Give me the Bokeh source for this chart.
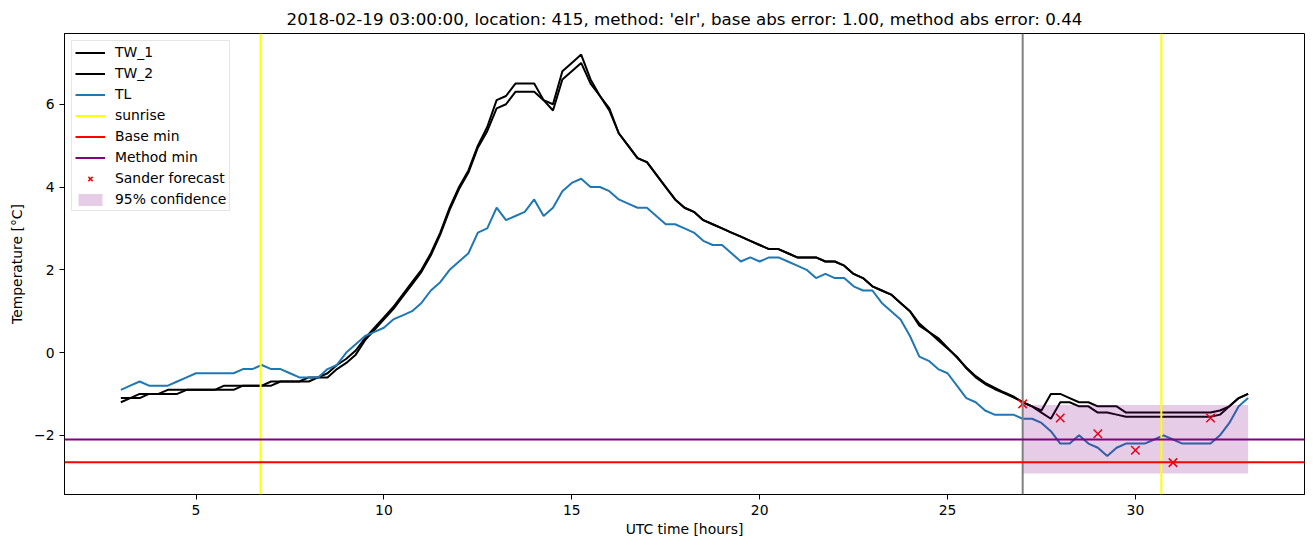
import numpy as np
from bokeh.plotting import figure
from bokeh.models import Span, Legend, LegendItem, FixedTicker, Range1d
from bokeh.embed import file_html
from bokeh.resources import INLINE

# ---------------- data ----------------
hours = [3.0 + 0.25 * i for i in range(121)]

tw_1 = [
    -1.1, -1.1, -1.0, -1.0,
    -1.0, -0.9, -0.9, -0.9,
    -0.9, -0.9, -0.9, -0.8,
    -0.8, -0.8, -0.8, -0.8,
    -0.7, -0.7, -0.7, -0.7,
    -0.6, -0.6, -0.5, -0.3,
    -0.15, 0.05, 0.35, 0.6,
    0.85, 1.1, 1.4, 1.7,
    2.0, 2.4, 2.9, 3.5,
    4.0, 4.4, 5.0, 5.45,
    6.1, 6.2, 6.5, 6.5,
    6.5, 6.1, 6.0, 6.8,
    7.0, 7.2, 6.6, 6.2,
    5.9, 5.3, 5.0, 4.7,
    4.6, 4.3, 4.0, 3.7,
    3.5, 3.4, 3.2, 3.1,
    3.0, 2.9, 2.8, 2.7,
    2.6, 2.5, 2.5, 2.4,
    2.3, 2.3, 2.3, 2.2,
    2.2, 2.1, 1.9, 1.8,
    1.6, 1.5, 1.4, 1.2,
    1.0, 0.65, 0.5, 0.35,
    0.12, -0.12, -0.36, -0.57,
    -0.73, -0.85, -0.96, -1.06,
    -1.2, -1.3, -1.4, -1.0,
    -1.0, -1.1, -1.2, -1.2,
    -1.3, -1.3, -1.3, -1.45,
    -1.45, -1.45, -1.45, -1.45,
    -1.45, -1.45, -1.45, -1.45,
    -1.45, -1.4, -1.3, -1.1,
    -1.0,
]

tw_2 = [
    -1.2, -1.1, -1.1, -1.0,
    -1.0, -1.0, -1.0, -0.9,
    -0.9, -0.9, -0.9, -0.9,
    -0.9, -0.8, -0.8, -0.8,
    -0.8, -0.7, -0.7, -0.7,
    -0.7, -0.6, -0.6, -0.4,
    -0.25, -0.05, 0.3, 0.55,
    0.8, 1.05, 1.35, 1.65,
    1.95, 2.35, 2.85, 3.45,
    3.95, 4.35, 4.95, 5.35,
    5.9, 6.0, 6.3, 6.3,
    6.3, 6.1, 5.85, 6.6,
    6.8, 7.0, 6.5, 6.2,
    5.85, 5.3, 5.0, 4.7,
    4.6, 4.3, 4.0, 3.7,
    3.5, 3.4, 3.2, 3.1,
    3.0, 2.9, 2.8, 2.7,
    2.6, 2.5, 2.5, 2.4,
    2.3, 2.3, 2.3, 2.2,
    2.2, 2.1, 1.9, 1.8,
    1.6, 1.5, 1.4, 1.2,
    1.0, 0.7, 0.5, 0.3,
    0.1, -0.1, -0.38, -0.6,
    -0.76, -0.88, -0.98, -1.08,
    -1.2, -1.3, -1.45, -1.6,
    -1.2, -1.2, -1.3, -1.3,
    -1.45, -1.45, -1.5, -1.55,
    -1.55, -1.55, -1.55, -1.55,
    -1.55, -1.55, -1.55, -1.55,
    -1.55, -1.5, -1.3, -1.1,
    -1.0,
]

tl = [
    -0.9, -0.8, -0.7, -0.8,
    -0.8, -0.8, -0.7, -0.6,
    -0.5, -0.5, -0.5, -0.5,
    -0.5, -0.4, -0.4, -0.3,
    -0.4, -0.4, -0.5, -0.6,
    -0.6, -0.6, -0.4, -0.3,
    0.0, 0.2, 0.4, 0.5,
    0.6, 0.8, 0.9, 1.0,
    1.2, 1.5, 1.7, 2.0,
    2.2, 2.4, 2.9, 3.0,
    3.5, 3.2, 3.3, 3.4,
    3.7, 3.3, 3.5, 3.9,
    4.1, 4.2, 4.0, 4.0,
    3.9, 3.7, 3.6, 3.5,
    3.5, 3.3, 3.1, 3.1,
    3.0, 2.9, 2.7, 2.6,
    2.6, 2.4, 2.2, 2.3,
    2.2, 2.3, 2.3, 2.2,
    2.1, 2.0, 1.8, 1.9,
    1.8, 1.8, 1.6, 1.5,
    1.5, 1.2, 1.0, 0.8,
    0.4, -0.1, -0.2, -0.4,
    -0.5, -0.8, -1.1, -1.2,
    -1.4, -1.5, -1.5, -1.5,
    -1.6, -1.6, -1.7, -1.9,
    -2.2, -2.2, -2.0, -2.2,
    -2.3, -2.5, -2.3, -2.2,
    -2.2, -2.2, -2.1, -2.0,
    -2.1, -2.2, -2.2, -2.2,
    -2.2, -2.0, -1.7, -1.3,
    -1.1,
]

sunrise_hours = [6.72, 30.69]
forecast_start = [27.0]
base_min = [-2.65]
method_min = [-2.10]
forecast_hours = [27, 28, 29, 30, 31, 32]
forecast_values = [-1.24, -1.58, -1.96, -2.36, -2.66, -1.58]
conf_hours = [27, 33]
conf_low = [-2.92, -2.92]
conf_high = [-1.27, -1.27]

x_ticks = [5, 10, 15, 20, 25, 30]
y_ticks = [-2, 0, 2, 4, 6]
y_tick_labels = ["\u22122", "0", "2", "4", "6"]

title_text = ("2018-02-19 03:00:00, location: 415, method: 'elr', "
              "base abs error: 1.00, method abs error: 0.44")

FONT = "DejaVu Sans"

# ---------------- figure ----------------
p = figure(width=1313, height=547, output_backend="svg", toolbar_location=None,
           x_range=Range1d(1.5, 34.5), y_range=Range1d(-3.43, 7.71),
           min_border_left=64, min_border_right=9, min_border_top=33,
           min_border_bottom=53)

p.title.text = title_text
p.title.align = "center"
p.title.text_font = FONT
p.title.text_font_size = "16.7px"
p.title.text_font_style = "normal"
p.title.text_color = "black"
p.title.standoff = 10

p.xgrid.grid_line_color = None
p.ygrid.grid_line_color = None
p.outline_line_color = "black"
p.outline_line_width = 1
p.background_fill_color = "white"
p.border_fill_color = "white"

for ax in (p.xaxis[0], p.yaxis[0]):
    ax.axis_line_color = "black"
    ax.major_tick_in = 0
    ax.major_tick_out = 5
    ax.major_tick_line_color = "black"
    ax.minor_tick_line_color = None
    ax.major_label_text_font = FONT
    ax.major_label_text_font_size = "13.9px"
    ax.major_label_text_color = "black"
    ax.major_label_standoff = 5
    ax.axis_label_text_font = FONT
    ax.axis_label_text_font_size = "13.9px"
    ax.axis_label_text_font_style = "normal"
    ax.axis_label_text_color = "black"

p.xaxis.ticker = FixedTicker(ticks=x_ticks)
p.yaxis.ticker = FixedTicker(ticks=y_ticks)
p.yaxis.major_label_overrides = {t: s for t, s in zip(y_ticks, y_tick_labels)}
p.xaxis.axis_label = "UTC time [hours]"
p.yaxis.axis_label = "Temperature [\u00b0C]"
p.xaxis.axis_label_standoff = 3
p.yaxis.axis_label_standoff = 6

# ---------------- glyphs ----------------
r_tw1 = p.line(hours, tw_1, line_color="black", line_width=2)
r_tw2 = p.line(hours, tw_2, line_color="black", line_width=2)
r_tl = p.line(hours, tl, line_color="#1f77b4", line_width=2)

for h in sunrise_hours:
    p.add_layout(Span(location=h, dimension="height", line_color="yellow", line_width=2))
for h in forecast_start:
    p.add_layout(Span(location=h, dimension="height", line_color="gray", line_width=2))
for v in base_min:
    p.add_layout(Span(location=v, dimension="width", line_color="red", line_width=2))
for v in method_min:
    p.add_layout(Span(location=v, dimension="width", line_color="purple", line_width=2))

# legend proxies for the spans (single-point lines draw nothing on the plot)
r_sun = p.line(sunrise_hours[:1], method_min, line_color="yellow", line_width=2)
r_base = p.line(sunrise_hours[:1], base_min, line_color="red", line_width=2)
r_meth = p.line(sunrise_hours[:1], method_min, line_color="purple", line_width=2)

r_fc = p.scatter(forecast_hours, forecast_values, marker="x", size=12,
                 line_color="red", line_width=1.5)
r_conf = p.varea(x=conf_hours, y1=conf_low, y2=conf_high,
                 fill_color="purple", fill_alpha=0.2)

legend = Legend(items=[
    LegendItem(label="TW_1", renderers=[r_tw1]),
    LegendItem(label="TW_2", renderers=[r_tw2]),
    LegendItem(label="TL", renderers=[r_tl]),
    LegendItem(label="sunrise", renderers=[r_sun]),
    LegendItem(label="Base min", renderers=[r_base]),
    LegendItem(label="Method min", renderers=[r_meth]),
    LegendItem(label="Sander forecast", renderers=[r_fc]),
    LegendItem(label="95% confidence", renderers=[r_conf]),
], location="top_left")
legend.margin = 7
legend.padding = 3
legend.spacing = 5
legend.label_height = 15
legend.glyph_height = 15
legend.glyph_width = 30
legend.label_standoff = 10
legend.label_text_font = FONT
legend.label_text_font_size = "13.9px"
legend.label_text_color = "black"
legend.border_line_color = "#cccccc"
legend.border_line_width = 1
legend.background_fill_color = "white"
legend.background_fill_alpha = 0.8
p.add_layout(legend)

open("out.html", "w").write(file_html(p, INLINE))
